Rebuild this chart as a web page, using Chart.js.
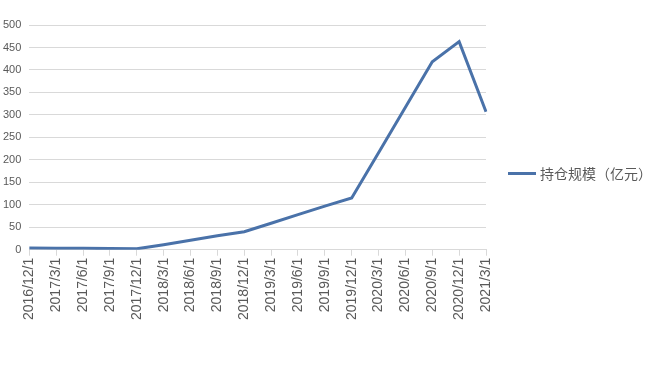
<!DOCTYPE html>
<html>
<head>
<meta charset="utf-8">
<script src="https://cdn.jsdelivr.net/npm/chart.js@4"></script>
<style>
    html, body { margin: 0; padding: 0; background: #ffffff; }
    #wrap { position: relative; width: 657px; height: 370px; }
    #legend {
        position: absolute; left: 508px; top: 163px;
        display: flex; align-items: center;
        font-family: "Noto Sans CJK SC", sans-serif; font-size: 14px; color: #595959;
    }
    #legend span.swatch { display: inline-block; width: 28px; height: 3px; background: #4a72a9; margin-right: 4px; }
</style>
</head>
<body>
<div id="wrap">
    <canvas id="chart" width="657" height="370"></canvas>
    <div id="legend"><span class="swatch"></span><span id="legendText"></span></div>
</div>
<script>
/*
============================================================
Data
============================================================
*/

const seriesName = "持仓规模（亿元）";

const dates = [
    "2016/12/1", "2017/3/1", "2017/6/1", "2017/9/1", "2017/12/1",
    "2018/3/1", "2018/6/1", "2018/9/1", "2018/12/1",
    "2019/3/1", "2019/6/1", "2019/9/1", "2019/12/1",
    "2020/3/1", "2020/6/1", "2020/9/1", "2020/12/1", "2021/3/1"
];

const holdings = [
    4, 3.5, 3, 2.5, 2,
    11, 21, 31, 40,
    59, 78, 97, 115,
    216, 317, 418, 463, 307
];

const yTicks = [0, 50, 100, 150, 200, 250, 300, 350, 400, 450, 500];

/*
============================================================
Chart
============================================================
*/

document.getElementById("legendText").textContent = seriesName;

const fontFamily = "'Liberation Sans', 'DejaVu Sans', sans-serif";

new Chart(document.getElementById("chart").getContext("2d"), {
    type: "line",
    data: {
        labels: dates,
        datasets: [{
            label: seriesName,
            data: holdings,
            borderColor: "#4a72a9",
            borderWidth: 3,
            pointRadius: 0,
            tension: 0,
            fill: false
        }]
    },
    options: {
        responsive: false,
        animation: false,
        layout: { padding: { top: 25, right: 171, bottom: 48, left: -5 } },
        plugins: {
            legend: { display: false },
            tooltip: { enabled: false }
        },
        scales: {
            x: {
                offset: false,
                border: { color: "#d9d9d9" },
                grid: { drawOnChartArea: false, tickLength: 6, color: "#d9d9d9" },
                ticks: {
                    color: "#595959", font: { family: fontFamily, size: 14 },
                    maxRotation: 90, minRotation: 90, autoSkip: false, padding: 2
                }
            },
            y: {
                min: 0, max: 500,
                afterBuildTicks: axis => { axis.ticks = yTicks.map(v => ({ value: v })); },
                border: { display: false },
                grid: { color: "#d9d9d9", drawTicks: false },
                ticks: { color: "#595959", font: { family: fontFamily, size: 11 }, padding: 8 }
            }
        }
    }
});
</script>
</body>
</html>
